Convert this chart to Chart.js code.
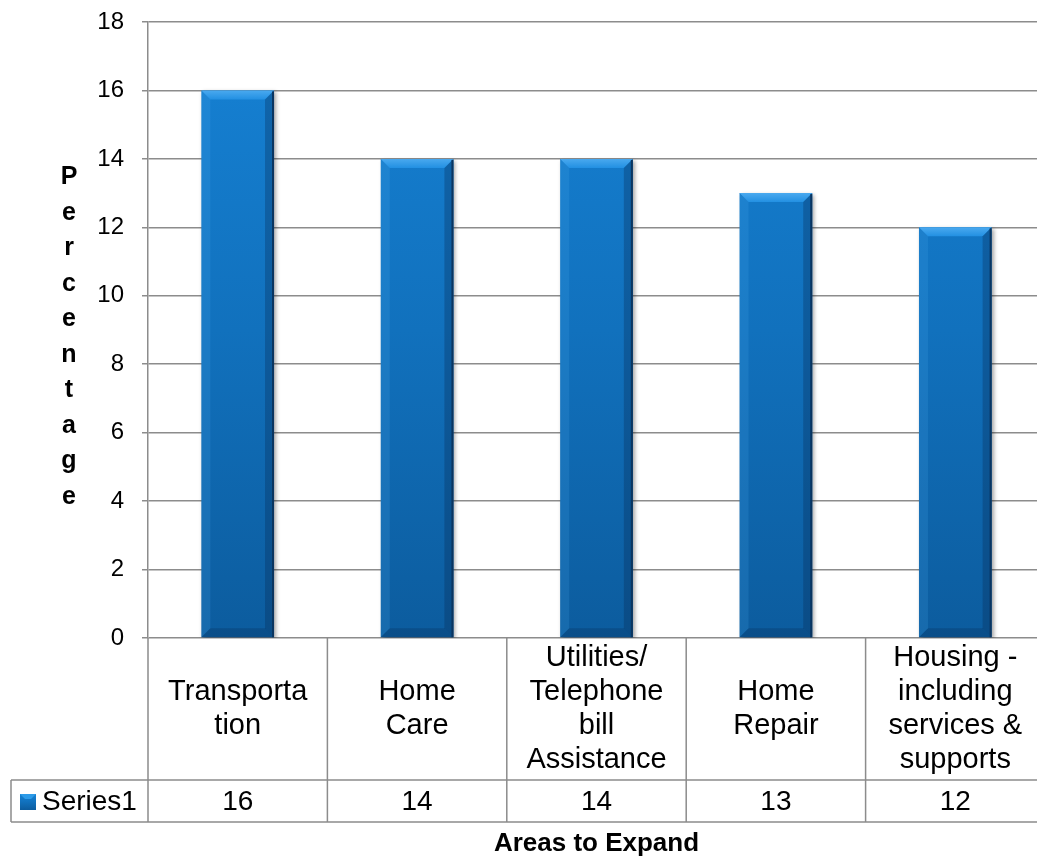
<!DOCTYPE html>
<html>
<head>
<meta charset="utf-8">
<title>Areas to Expand</title>
<script src="https://cdn.jsdelivr.net/npm/chart.js@4/dist/chart.umd.min.js"></script>
<style>
  html, body { margin: 0; padding: 0; background: #fff; overflow: hidden; }
  #wrap { width: 1045px; height: 856px; position: relative; }
</style>
</head>
<body>
<div id="wrap"><canvas id="areasChart"></canvas></div>
<script>
const FONT = "'Liberation Sans', Arial, sans-serif";

// category labels as they wrap inside the data table
const categoryLines = [
  ['Transporta', 'tion'],
  ['Home', 'Care'],
  ['Utilities/', 'Telephone', 'bill', 'Assistance'],
  ['Home', 'Repair'],
  ['Housing -', 'including', 'services &', 'supports']
];
const categories = categoryLines.map(lines => lines.join(' '));
const seriesName = 'Series1';
const seriesValues = [16, 14, 14, 13, 12];
const yMin = 0;
const yMax = 18;
const yStep = 2;
const yTitle = 'Percentage';
const xTitle = 'Areas to Expand';

const GRID = '#8c8c8c';
const CAT_ROW = 142;
const VAL_ROW = 42;
const TABLE_LEFT = 11;

function barGradient(ctx, top, bottom) {
  const g = ctx.createLinearGradient(0, top, 0, bottom);
  g.addColorStop(0, '#1682d5');
  g.addColorStop(0.5, '#1171bd');
  g.addColorStop(1, '#0c5c9e');
  return g;
}

// soft drop shadow under the bars, plus bevelled edges on top of them
const barStyle = {
  id: 'barStyle',
  beforeDatasetsDraw(chart) {
    const ctx = chart.ctx;
    ctx.save();
    ctx.shadowColor = 'rgba(0,0,0,0.35)';
    ctx.shadowBlur = 4;
    ctx.shadowOffsetX = 2;
    ctx.shadowOffsetY = 2;
  },
  afterDatasetsDraw(chart) {
    const ctx = chart.ctx;
    ctx.restore();
    const meta = chart.getDatasetMeta(0);
    meta.data.forEach(bar => {
      const { x, y, base, width } = bar.getProps(['x', 'y', 'base', 'width'], true);
      const l = x - width / 2, r = x + width / 2, b = 9;
      ctx.save();
      // top bevel
      const tg = ctx.createLinearGradient(0, y, 0, y + b);
      tg.addColorStop(0, '#4aa9ef');
      tg.addColorStop(1, '#2290e2');
      ctx.fillStyle = tg;
      ctx.beginPath();
      ctx.moveTo(l, y); ctx.lineTo(r, y); ctx.lineTo(r - b, y + b); ctx.lineTo(l + b, y + b);
      ctx.closePath(); ctx.fill();
      // left bevel
      ctx.fillStyle = 'rgba(80,170,240,0.18)';
      ctx.beginPath();
      ctx.moveTo(l, y); ctx.lineTo(l + b, y + b); ctx.lineTo(l + b, base - b); ctx.lineTo(l, base);
      ctx.closePath(); ctx.fill();
      // right bevel
      ctx.fillStyle = 'rgba(5,40,80,0.3)';
      ctx.beginPath();
      ctx.moveTo(r, y); ctx.lineTo(r - b, y + b); ctx.lineTo(r - b, base - b); ctx.lineTo(r, base);
      ctx.closePath(); ctx.fill();
      // bottom bevel
      ctx.fillStyle = 'rgba(5,45,90,0.3)';
      ctx.beginPath();
      ctx.moveTo(l, base); ctx.lineTo(l + b, base - b); ctx.lineTo(r - b, base - b); ctx.lineTo(r, base);
      ctx.closePath(); ctx.fill();
      // dark right edge
      ctx.fillStyle = '#0a3560';
      ctx.fillRect(r - 2, y + 1, 2, base - y - 1);
      ctx.restore();
    });
  }
};

// data table under the plot, and the two axis titles
const dataTable = {
  id: 'dataTable',
  afterDraw(chart) {
    const { ctx, chartArea: area, scales: { x } } = chart;
    const n = chart.data.labels.length;
    const step = (area.right - area.left) / n;
    const top = area.bottom;
    const catBottom = top + CAT_ROW;
    const valBottom = catBottom + VAL_ROW;

    ctx.save();
    ctx.strokeStyle = GRID;
    ctx.lineWidth = 1.5;
    ctx.beginPath();
    ctx.moveTo(TABLE_LEFT, catBottom); ctx.lineTo(area.right, catBottom);
    ctx.moveTo(TABLE_LEFT, valBottom); ctx.lineTo(area.right, valBottom);
    ctx.moveTo(TABLE_LEFT, catBottom); ctx.lineTo(TABLE_LEFT, valBottom);
    for (let i = 0; i <= n; i++) {
      const bx = x.getPixelForValue(i) - step / 2;
      ctx.moveTo(bx, top); ctx.lineTo(bx, valBottom);
    }
    ctx.stroke();

    ctx.fillStyle = '#000';
    ctx.textAlign = 'center';
    ctx.textBaseline = 'middle';
    ctx.font = '29px ' + FONT;
    const lh = 34;
    categoryLines.forEach((lines, i) => {
      const cx = x.getPixelForValue(i);
      const startY = (top + catBottom) / 2 - (lines.length - 1) * lh / 2;
      lines.forEach((line, k) => ctx.fillText(line, cx, startY + k * lh));
    });
    ctx.font = '28px ' + FONT;
    const valY = (catBottom + valBottom) / 2 + 1;
    chart.data.datasets[0].data.forEach((v, i) => {
      ctx.fillText(String(v), x.getPixelForValue(i), valY);
    });

    // legend key
    ctx.fillStyle = barGradient(ctx, valY - 8, valY + 8);
    ctx.fillRect(20, valY - 8, 16, 16);
    ctx.fillStyle = '#2d9be8';
    ctx.beginPath();
    ctx.moveTo(20, valY - 8); ctx.lineTo(36, valY - 8); ctx.lineTo(31, valY - 3); ctx.lineTo(25, valY - 3);
    ctx.closePath(); ctx.fill();
    ctx.fillStyle = '#000';
    ctx.textAlign = 'left';
    ctx.fillText(seriesName, 42, valY);

    // stacked y title
    ctx.font = 'bold 25px ' + FONT;
    ctx.textAlign = 'center';
    const letters = yTitle.split('');
    const ls = 35.5;
    const mid = (area.top + area.bottom) / 2 + 7;
    letters.forEach((ch, k) => {
      ctx.fillText(ch, 69, mid + (k - (letters.length - 1) / 2) * ls);
    });

    // x title
    ctx.font = 'bold 26px ' + FONT;
    ctx.textBaseline = 'alphabetic';
    ctx.fillText(xTitle, (area.left + area.right) / 2, 851);
    ctx.restore();
  }
};

new Chart(document.getElementById('areasChart'), {
  type: 'bar',
  data: {
    labels: categories,
    datasets: [{
      label: seriesName,
      data: seriesValues,
      backgroundColor: (c) => {
        const area = c.chart.chartArea;
        if (!area) return '#1171bd';
        return barGradient(c.chart.ctx, area.top, area.bottom);
      },
      borderWidth: 0,
      barPercentage: 0.405,
      categoryPercentage: 1
    }]
  },
  options: {
    responsive: true,
    maintainAspectRatio: false,
    animation: false,
    layout: { padding: { top: 22, left: 0, right: 0, bottom: 0 } },
    plugins: {
      legend: { display: false },
      tooltip: { enabled: false }
    },
    scales: {
      x: {
        ticks: { display: false },
        grid: { display: false },
        border: { display: false },
        afterFit(scale) { scale.height = CAT_ROW + VAL_ROW + 34; }
      },
      y: {
        min: yMin,
        max: yMax,
        ticks: {
          stepSize: yStep,
          color: '#000',
          padding: 18,
          font: { size: 24, family: FONT }
        },
        grid: { color: GRID, lineWidth: 1.5, tickLength: 6 },
        border: { color: GRID, width: 1.5 },
        afterFit(scale) {
          scale.width = 148;
          scale.paddingTop = 0;
          scale.paddingBottom = 0;
        }
      }
    }
  },
  plugins: [barStyle, dataTable]
});
</script>
</body>
</html>
